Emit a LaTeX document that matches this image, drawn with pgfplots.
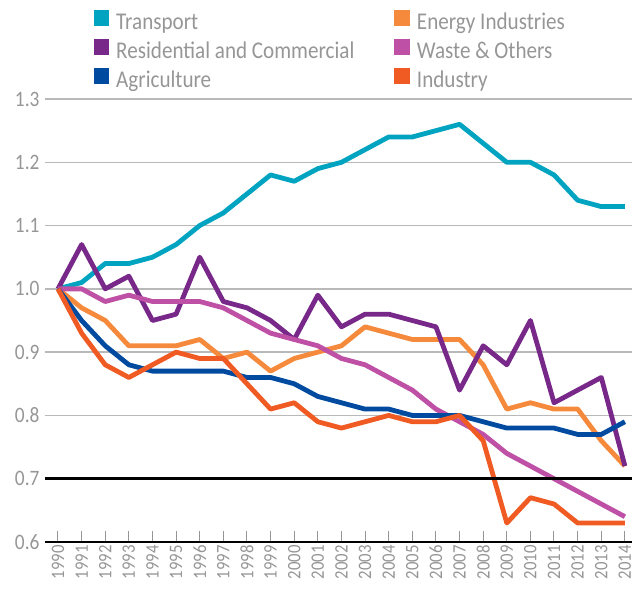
\documentclass[border=0pt]{standalone}
\usepackage{pgfplots}
\pgfplotsset{compat=1.18}
\usepackage{fontspec}
\setmainfont[FakeStretch=0.88]{Carlito}
\definecolor{ctrans}{RGB}{0,163,192}
\definecolor{cres}{RGB}{120,40,137}
\definecolor{cagr}{RGB}{0,75,160}
\definecolor{cene}{RGB}{246,138,60}
\definecolor{cwas}{RGB}{190,80,165}
\definecolor{cind}{RGB}{240,90,35}
\definecolor{txtgray}{RGB}{150,150,150}
\begin{document}
\begin{tikzpicture}
\useasboundingbox (-45pt,-54pt) rectangle (590pt,542pt);
\begin{axis}[
  at={(0pt,0pt)}, anchor=south west,
  scale only axis,
  width=587pt, height=443pt,
  xmin=1989.45, xmax=2014.3,
  ymin=0.6, ymax=1.3,
  ytick={0.6,0.7,0.8,0.9,1.0,1.1,1.2,1.3},
  yticklabels={0.6,0.7,0.8,0.9,1.0,1.1,1.2,1.3},
  xtick={1990,...,2014},
  xticklabel style={rotate=90, anchor=east, font=\fontsize{19}{19}\selectfont, text=txtgray},
  yticklabel style={font=\fontsize{22}{22}\selectfont, text=txtgray},
  /pgf/number format/assume math mode=true,
  xticklabel={\pgfmathprintnumber[1000 sep={}]{\tick}},
  axis x line*=bottom,
  axis y line*=left,
  x axis line style={black, line width=2.5pt, -},
  y axis line style={draw=none},
  ytick style={draw=none},
  xtick style={txtgray, line width=1pt},
  tick align=inside,
  major tick length=11pt,
  ymajorgrids,
  grid style={gray!55, line width=1.3pt},
  yticklabel shift=2pt,
  xticklabel shift=0pt,
  legend columns=2,
  legend cell align=left,
  legend style={at={(axis description cs:0.083,1)}, anchor=north west, yshift=89pt,
    draw=none, fill=none, inner sep=0pt, outer sep=0pt, font=\fontsize{24}{24}\selectfont, text=txtgray,
    nodes={inner sep=0pt, text height=16pt, text depth=5pt},
    /tikz/every odd column/.append style={column sep=7pt},
    /tikz/every even column/.append style={column sep=40pt},
    row sep=5pt},
  legend image code/.code={\fill[#1, draw=none] (0pt,-2pt) rectangle (15.5pt,13.5pt);},
  every axis plot/.append style={line width=4.8pt, line join=round, mark=none},
]
\addplot[ctrans] coordinates {(1990,1.00)(1991,1.01)(1992,1.04)(1993,1.04)(1994,1.05)(1995,1.07)(1996,1.10)(1997,1.12)(1998,1.15)(1999,1.18)(2000,1.17)(2001,1.19)(2002,1.20)(2003,1.22)(2004,1.24)(2005,1.24)(2006,1.25)(2007,1.26)(2008,1.23)(2009,1.20)(2010,1.20)(2011,1.18)(2012,1.14)(2013,1.13)(2014,1.13)};
\addlegendentry{Transport}
\addplot[cene] coordinates {(1990,1.00)(1991,0.97)(1992,0.95)(1993,0.91)(1994,0.91)(1995,0.91)(1996,0.92)(1997,0.89)(1998,0.90)(1999,0.87)(2000,0.89)(2001,0.90)(2002,0.91)(2003,0.94)(2004,0.93)(2005,0.92)(2006,0.92)(2007,0.92)(2008,0.88)(2009,0.81)(2010,0.82)(2011,0.81)(2012,0.81)(2013,0.76)(2014,0.72)};
\addlegendentry{Energy Industries}
\addplot[cres] coordinates {(1990,1.00)(1991,1.07)(1992,1.00)(1993,1.02)(1994,0.95)(1995,0.96)(1996,1.05)(1997,0.98)(1998,0.97)(1999,0.95)(2000,0.92)(2001,0.99)(2002,0.94)(2003,0.96)(2004,0.96)(2005,0.95)(2006,0.94)(2007,0.84)(2008,0.91)(2009,0.88)(2010,0.95)(2011,0.82)(2012,0.84)(2013,0.86)(2014,0.72)};
\addlegendentry{Residential and Commercial}
\addplot[cwas] coordinates {(1990,1.00)(1991,1.00)(1992,0.98)(1993,0.99)(1994,0.98)(1995,0.98)(1996,0.98)(1997,0.97)(1998,0.95)(1999,0.93)(2000,0.92)(2001,0.91)(2002,0.89)(2003,0.88)(2004,0.86)(2005,0.84)(2006,0.81)(2007,0.79)(2008,0.77)(2009,0.74)(2010,0.72)(2011,0.70)(2012,0.68)(2013,0.66)(2014,0.64)};
\addlegendentry{Waste \& Others}
\addplot[cagr] coordinates {(1990,1.00)(1991,0.95)(1992,0.91)(1993,0.88)(1994,0.87)(1995,0.87)(1996,0.87)(1997,0.87)(1998,0.86)(1999,0.86)(2000,0.85)(2001,0.83)(2002,0.82)(2003,0.81)(2004,0.81)(2005,0.80)(2006,0.80)(2007,0.80)(2008,0.79)(2009,0.78)(2010,0.78)(2011,0.78)(2012,0.77)(2013,0.77)(2014,0.79)};
\addlegendentry{Agriculture}
\addplot[cind] coordinates {(1990,1.00)(1991,0.93)(1992,0.88)(1993,0.86)(1994,0.88)(1995,0.90)(1996,0.89)(1997,0.89)(1998,0.85)(1999,0.81)(2000,0.82)(2001,0.79)(2002,0.78)(2003,0.79)(2004,0.80)(2005,0.79)(2006,0.79)(2007,0.80)(2008,0.76)(2009,0.63)(2010,0.67)(2011,0.66)(2012,0.63)(2013,0.63)(2014,0.63)};
\addlegendentry{Industry}
\draw[black, line width=2.5pt] (axis cs:1989.45,0.7) -- (axis cs:2014.3,0.7);
\end{axis}
\end{tikzpicture}
\end{document}
